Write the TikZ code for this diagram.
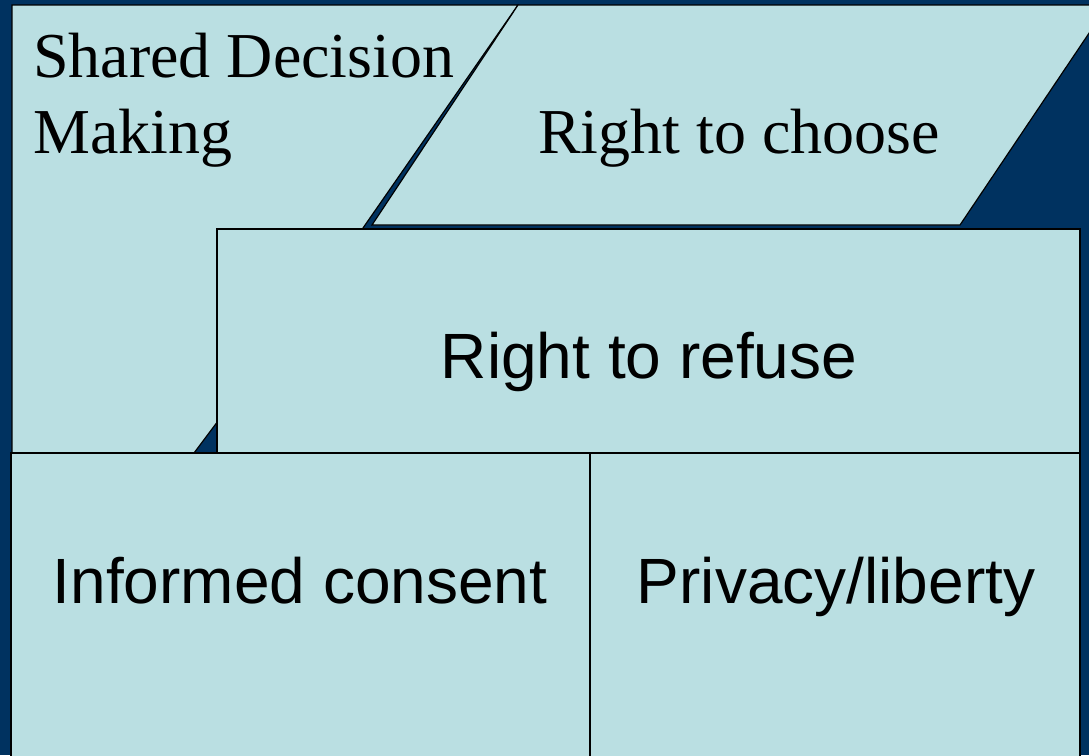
\documentclass[tikz,border=0pt]{standalone}
\usepackage{fontspec}
\newfontfamily\serifface{Liberation Serif}
\newfontfamily\sansface{Liberation Sans}
\definecolor{navy}{RGB}{0,50,96}
\definecolor{pale}{RGB}{186,223,226}
\tikzset{
  panel/.style={fill=pale, draw=black, line width=1.2pt, line join=miter},
  sertext/.style={font=\serifface\fontsize{64}{76}\selectfont, inner sep=0pt, text=black},
  santext/.style={font=\sansface\fontsize{64}{76}\selectfont, inner sep=0pt, text=black}
}
\begin{document}
\begin{tikzpicture}[x=1pt,y=-1pt]
\fill[navy] (0,0) rectangle (1089,755);
\useasboundingbox (0,0) rectangle (1089,755);
\clip (0,0) rectangle (1089,755);
% Shared decision making
\draw[panel] (12,5) -- (518,5) -- (363,228) -- (194,453) -- (12,453) -- cycle;
% Right to choose parallelogram
\draw[panel] (518,5) -- (1108,5) -- (960,225) -- (372,225) -- cycle;
% Right to refuse
\draw[panel] (217,229) rectangle (1080,453);
% Bottom boxes
\draw[panel] (11,453) rectangle (590,770);
\draw[panel] (590,453) rectangle (1080,770);
\draw[line width=2.2pt] (217,453) -- (1080,453);
% texts
\node[sertext, anchor=base west] (sdm1) at (33,77) {Shared Decision};
\node[sertext, anchor=base west] (sdm2) at (33,153) {Making};
\node[sertext, anchor=base] (choose) at (739,153) {Right to choose};
\node[santext, anchor=base] (refuse) at (649,378) {Right to refuse};
\node[santext, anchor=base] (consent) at (300,603) {Informed consent};
\node[santext, anchor=base] (privacy) at (836,603) {Privacy/liberty};
\end{tikzpicture}
\end{document}
